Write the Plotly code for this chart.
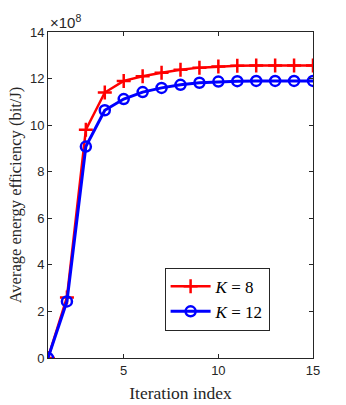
import plotly.graph_objects as go

iterations = list(range(1, 16))
ee_k8 = [0.0, 2.6, 9.8, 11.4, 11.9, 12.1, 12.25, 12.38, 12.47, 12.52, 12.55, 12.56, 12.56, 12.56, 12.56]
ee_k12 = [0.0, 2.43, 9.08, 10.64, 11.12, 11.42, 11.6, 11.73, 11.82, 11.87, 11.89, 11.9, 11.9, 11.9, 11.9]
x_ticks = [5, 10, 15]
y_ticks = [0, 2, 4, 6, 8, 10, 12, 14]

fig = go.Figure()
fig.add_trace(go.Scatter(
    x=iterations, y=ee_k8, mode="lines+markers", name="<i>K</i>&#8197;=&#8197;8",
    line=dict(color="#ff0000", width=2.5),
    marker=dict(symbol="cross-thin", size=10, line=dict(color="#ff0000", width=2.5)),
))
fig.add_trace(go.Scatter(
    x=iterations, y=ee_k12, mode="lines+markers", name="<i>K</i>&#8197;=&#8197;12",
    line=dict(color="#0000ff", width=3),
    marker=dict(symbol="circle-open", size=10, line=dict(color="#0000ff", width=2.5)),
))

axis_common = dict(
    showgrid=False, zeroline=False, showline=True, linecolor="#262626", linewidth=1,
    mirror="ticks", ticks="inside", ticklen=4, tickcolor="#262626", automargin=False,
    tickfont=dict(family="Liberation Sans, Arial", size=13, color="#262626"),
)
fig.update_xaxes(range=[1, 15], tickvals=x_ticks,
                 title=dict(text="Iteration index", font=dict(family="Liberation Serif, Times New Roman", size=17.5, color="#262626"), standoff=10),
                 **axis_common)
fig.update_yaxes(range=[0, 14], tickvals=y_ticks,
                 title=dict(text="Average energy efficiency (bit/J)", font=dict(family="Liberation Serif, Times New Roman", size=16.5, color="#262626"), standoff=4),
                 **axis_common)

fig.add_annotation(x=0, y=1, xref="paper", yref="paper", xanchor="left", yanchor="bottom",
                   text="×10<sup>8</sup>", showarrow=False, yshift=-1,
                   font=dict(family="Liberation Sans, Arial", size=15, color="#262626"))

fig.update_layout(
    width=346, height=405,
    margin=dict(l=48, r=33, t=32, b=47),
    paper_bgcolor="white", plot_bgcolor="white",
    legend=dict(x=0.44, y=0.277, xanchor="left", yanchor="top",
                bgcolor="white", bordercolor="#262626", borderwidth=1,
                font=dict(family="Liberation Serif, Times New Roman", size=17, color="black"),
                tracegroupgap=0, itemwidth=40),
    showlegend=True,
)

fig.write_html("out.html", config={"displayModeBar": False},
               post_script="document.body.style.margin='0';document.body.style.padding='0';")
